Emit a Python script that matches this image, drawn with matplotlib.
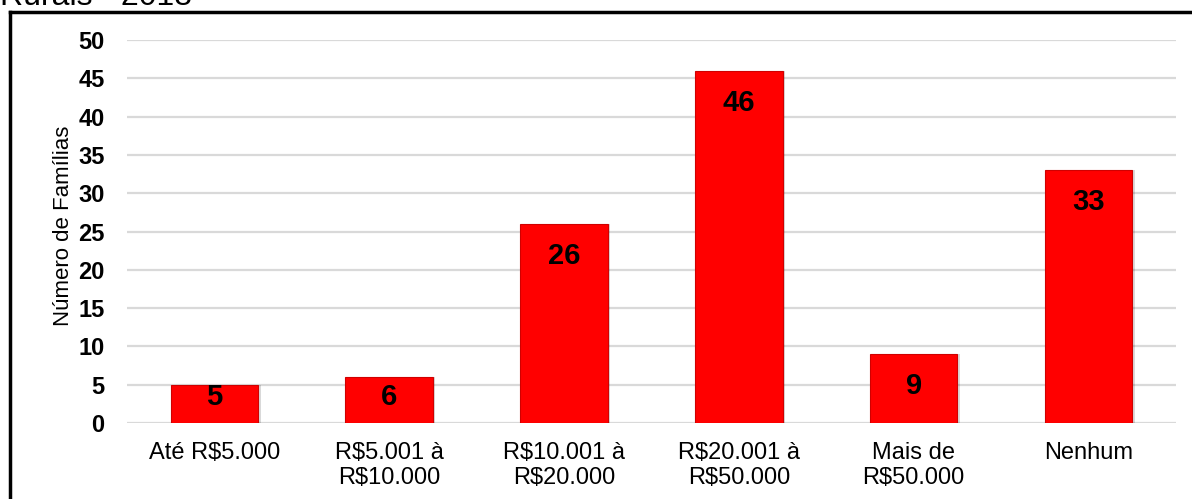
import numpy as np
import matplotlib.pyplot as plt
from matplotlib.lines import Line2D

categories = ["Até R$5.000", "R$5.001 à\nR$10.000", "R$10.001 à\nR$20.000",
              "R$20.001 à\nR$50.000", "Mais de\nR$50.000", "Nenhum"]
familias = [5, 6, 26, 46, 9, 33]
yticks = [0, 5, 10, 15, 20, 25, 30, 35, 40, 45, 50]

plt.rcParams["font.family"] = ["Liberation Sans", "DejaVu Sans"]

fig = plt.figure(figsize=(11.92, 4.99), dpi=100)
ax = fig.add_axes([0.1065, 0.1523, 0.88, 0.7675])

x = np.arange(len(categories))

# soft shadow behind bars
ax.bar(x + 0.014, familias, width=0.5, color="#000000", alpha=0.15,
       zorder=2, linewidth=0)
ax.bar(x, familias, width=0.5, color="#ff0000", edgecolor="#d00000",
       linewidth=0.8, zorder=3)

for xi, v in zip(x, familias):
    ax.text(xi, max(v - 4.2, 3.4), str(v), ha="center", va="center",
            fontsize=21, fontweight="bold", color="black", zorder=4)

ax.set_xlim(-0.5, len(categories) - 0.5)
ax.set_ylim(0, 50)
ax.set_yticks(yticks)
ax.set_yticklabels([str(t) for t in yticks], fontsize=17, fontweight="bold")
ax.set_xticks(x)
ax.set_xticklabels(categories, fontsize=17, linespacing=1.15)
ax.tick_params(axis="both", length=0)
ax.tick_params(axis="x", pad=14)
ax.tick_params(axis="y", pad=16)

ax.yaxis.grid(True, color="#d9d9d9", linewidth=1.6, zorder=0)
ax.set_axisbelow(True)
for s in ax.spines.values():
    s.set_visible(False)

ax.set_ylabel("Número de Famílias", fontsize=16)
ax.yaxis.set_label_coords(-0.05, 0.515)

# outer frame (left and top edges)
fx = 10 / 1192
fy = 1 - 12 / 499
fig.add_artist(Line2D([fx, fx], [0, fy], transform=fig.transFigure,
                      color="black", linewidth=2.5))
fig.add_artist(Line2D([fx, 1.0], [fy, fy], transform=fig.transFigure,
                      color="black", linewidth=2.5))

fig.text(0.0, 1 - 5 / 499, "Rurais - 2018", fontsize=23, va="baseline",
         ha="left", color="black")

fig.savefig("out.png", dpi=100)
